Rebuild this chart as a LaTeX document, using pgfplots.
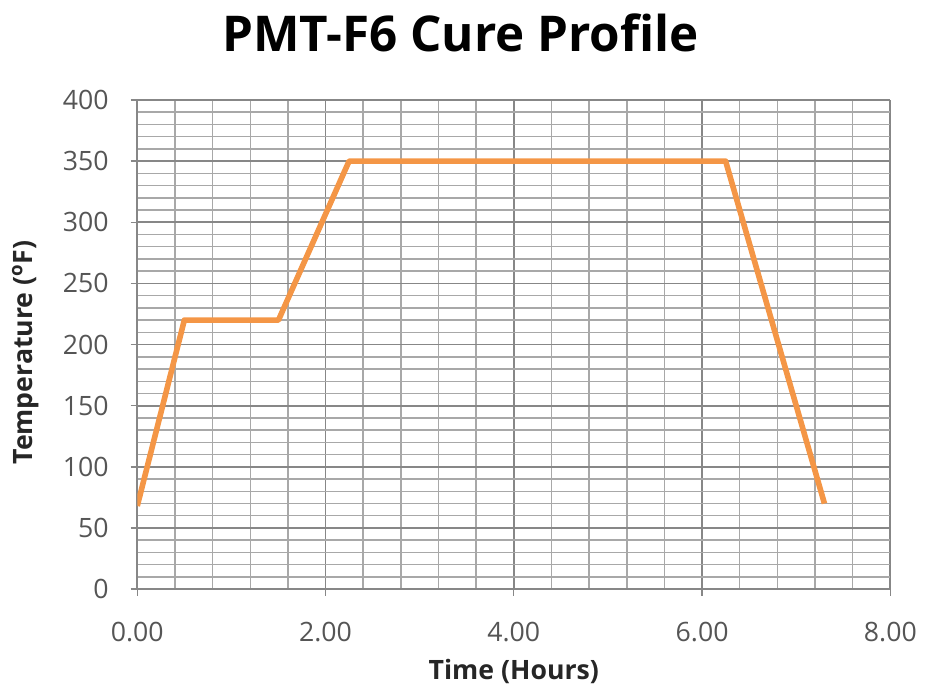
\documentclass[border=0pt]{standalone}
\usepackage{pgfplots}
\pgfplotsset{compat=1.18}
\usetikzlibrary{calc}
\usepackage{fontspec}
\setmainfont{Open Sans}
\definecolor{cureorange}{RGB}{244,150,70}
\definecolor{majgray}{RGB}{135,135,135}
\definecolor{mingray}{RGB}{168,168,168}
\definecolor{labgray}{RGB}{85,85,85}
\begin{document}
\begin{tikzpicture}
\begin{axis}[
  name=main,
  width=565pt, height=367pt, scale only axis,
  xmin=0, xmax=8, ymin=0, ymax=400,
  xtick={0,2,...,8}, ytick={0,50,...,400},
  minor x tick num=4, minor y tick num=4,
  grid=both,
  major grid style={majgray, line width=1.3pt},
  minor grid style={mingray, line width=1.1pt},
  axis lines*=left,
  axis line style={majgray, line width=1.5pt},
  tick style={majgray, line width=1pt},
  minor tick length=0pt,
  major tick length=5pt,
  tick align=outside,
  /pgf/number format/assume math mode=true,
  ticklabel style={font=\fontsize{20}{24}\selectfont, text=labgray},
  yticklabel style={xshift=-13pt},
  xticklabel style={yshift=-16pt, /pgf/number format/.cd, fixed, fixed zerofill, precision=2},
  xlabel={\textbf{Time (Hours)}},
  ylabel={\textbf{Temperature (\textsuperscript{o}F)}},
  xlabel style={at={($(rel axis cs:0.5,0)+(0pt,-62pt)$)}, anchor=center},
  ylabel style={at={($(rel axis cs:0,0.5)+(-84pt,-6pt)$)}, anchor=center},
  label style={font=\fontsize{20}{24}\selectfont, text=black!85},
  title={\textbf{PMT-F6 Cure Profile}},
  title style={font=\fontsize{37}{42}\selectfont, at={($(rel axis cs:0.5,1)+(-40pt,30pt)$)}, anchor=base},
]
\addplot[cureorange, line width=4.2pt, line join=round] coordinates {
  (0,68) (0.5,220) (1.5,220) (2.25,350) (6.25,350) (7.3,70)
};
\end{axis}
\pgfresetboundingbox
\path[use as bounding box] ($(main.south west)+(-103pt,-75pt)$) rectangle ($(main.north east)+(26pt,75pt)$);
\end{tikzpicture}
\end{document}
